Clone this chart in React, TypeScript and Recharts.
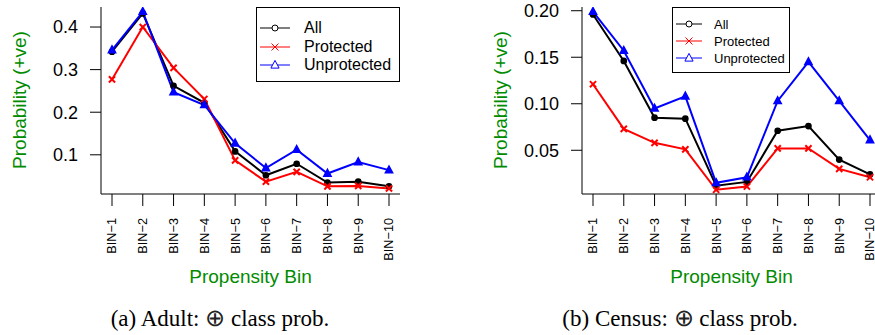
import React from "react";
import { LineChart, Line, XAxis, YAxis, Legend } from "recharts";

// Propensity bins and the positive-class probability per group.
const bins = ["BIN\u22121", "BIN\u22122", "BIN\u22123", "BIN\u22124", "BIN\u22125", "BIN\u22126", "BIN\u22127", "BIN\u22128", "BIN\u22129", "BIN\u221210"];

const adultAll = [0.342, 0.432, 0.262, 0.222, 0.108, 0.052, 0.079, 0.035, 0.037, 0.026];
const adultProtected = [0.277, 0.4, 0.304, 0.231, 0.087, 0.037, 0.06, 0.026, 0.027, 0.021];
const adultUnprotected = [0.346, 0.436, 0.247, 0.217, 0.127, 0.069, 0.112, 0.056, 0.083, 0.064];

const censusAll = [0.196, 0.146, 0.085, 0.084, 0.012, 0.016, 0.071, 0.076, 0.04, 0.024];
const censusProtected = [0.121, 0.073, 0.058, 0.051, 0.0075, 0.011, 0.052, 0.052, 0.03, 0.021];
const censusUnprotected = [0.199, 0.157, 0.095, 0.108, 0.015, 0.021, 0.103, 0.145, 0.103, 0.061];

const adultTicks = [0.1, 0.2, 0.3, 0.4];
const censusTicks = [0.05, 0.1, 0.15, 0.2];

const SANS = "'Liberation Sans', Arial, Helvetica, sans-serif";
const SERIF = "'Liberation Serif', 'Times New Roman', serif";
const GREEN = "#008B00";

const series = [
  { key: "all", name: "All", color: "#000000", shape: "circle" },
  { key: "prot", name: "Protected", color: "#FF0000", shape: "cross" },
  { key: "unprot", name: "Unprotected", color: "#0000FF", shape: "triangle" },
];

const rows = (all: number[], prot: number[], unprot: number[]) =>
  bins.map((bin, i) => ({ bin, all: all[i], prot: prot[i], unprot: unprot[i] }));

const adultData = rows(adultAll, adultProtected, adultUnprotected);
const censusData = rows(censusAll, censusProtected, censusUnprotected);

function Marker({ shape, cx, cy, color, filled, r }: any) {
  if (shape === "circle") {
    return <circle cx={cx} cy={cy} r={r} fill={filled ? color : "#fff"} stroke={color} strokeWidth={filled ? 1.5 : 1} />;
  }
  if (shape === "cross") {
    const d = r + 0.5;
    return (
      <path
        d={`M${cx - d},${cy - d}L${cx + d},${cy + d}M${cx - d},${cy + d}L${cx + d},${cy - d}`}
        stroke={color}
        strokeWidth={filled ? 2 : 1}
        fill="none"
      />
    );
  }
  const h = r * 1.2;
  return (
    <path
      d={`M${cx},${cy - h - 1}L${cx + h + 0.5},${cy + h - 0.5}L${cx - h - 0.5},${cy + h - 0.5}Z`}
      fill={filled ? color : "#fff"}
      stroke={color}
      strokeWidth={filled ? 1.5 : 1}
    />
  );
}

function BinTick({ x, y, payload }: any) {
  return (
    <text
      x={x}
      y={y}
      transform={`rotate(-90 ${x} ${y})`}
      textAnchor="end"
      dy="0.35em"
      fontFamily={SANS}
      fontSize={12.7}
      fill="#000"
    >
      {payload.value}
    </text>
  );
}

function LegendBox({ payload, font, lineW, textX, rowTop, rowGap }: any) {
  return (
    <div style={{ position: "relative", width: "100%", height: "100%", border: "1px solid #000", boxSizing: "border-box", background: "#fff" }}>
      {(payload || []).map((p: any, i: number) => {
        const s = series.find((q) => q.name === p.value)!;
        const cy = rowTop + i * rowGap;
        return (
          <div key={p.value}>
            <svg style={{ position: "absolute", left: 3, top: cy - 6 }} width={lineW} height={12}>
              <line x1={0} y1={6} x2={lineW} y2={6} stroke={s.color} strokeWidth={1} />
              <Marker shape={s.shape} cx={lineW / 2} cy={6} color={s.color} r={3} filled={false} />
            </svg>
            <span style={{ position: "absolute", left: textX, top: cy, transform: "translateY(-50%)", fontFamily: SANS, fontSize: font, lineHeight: 1, whiteSpace: "nowrap" }}>
              {p.value}
            </span>
          </div>
        );
      })}
    </div>
  );
}

function Caption({ label, name }: any) {
  // the circled plus is thin and cap-high in the original
  return (
    <>
      {label} {name}:{" "}
      <span style={{ fontFamily: "'DejaVu Sans', sans-serif", fontWeight: 200, fontSize: "1.05em", color: "#222" }}>⊕</span> class prob.
    </>
  );
}

function Panel({ data, domain, ticks, width, yWidth, right, legend, caption, captionX }: any) {
  const plotLeft = yWidth;
  const plotRight = width - right;
  const mid = (plotLeft + plotRight) / 2;
  return (
    <div style={{ position: "relative", width, height: 335 }}>
      <LineChart width={width} height={300} data={data} margin={{ top: 7, right, bottom: 0, left: 0 }}>
        <XAxis
          dataKey="bin"
          type="category"
          padding={{ left: 11, right: 11 }}
          height={106}
          tickSize={12}
          tickMargin={12}
          interval={0}
          tick={<BinTick />}
          stroke="#000"
          tickLine={{ stroke: "#000" }}
        />
        <XAxis xAxisId="top" dataKey="bin" orientation="top" height={0} tick={false} tickLine={false} stroke="#000" />
        <YAxis
          type="number"
          domain={domain}
          ticks={ticks}
          allowDataOverflow
          width={yWidth}
          tickSize={11}
          tickMargin={12}
          stroke="#000"
          tick={{ fill: "#000", fontFamily: SANS, fontSize: 18 }}
          tickFormatter={(v: number) => (ticks[0] === 0.05 ? v.toFixed(2) : v.toFixed(1))}
        />
        <YAxis yAxisId="r" orientation="right" type="number" domain={domain} allowDataOverflow width={0} tick={false} tickLine={false} stroke="#000" />
        <Legend
          layout="vertical"
          align="center"
          verticalAlign="middle"
          wrapperStyle={legend.style}
          content={(props: any) => <LegendBox payload={props.payload} {...legend} />}
        />
        {series.map((s) => (
          <Line
            key={s.key}
            dataKey={s.key}
            name={s.name}
            stroke={s.color}
            strokeWidth={2}
            isAnimationActive={false}
            dot={(p: any) => <Marker key={`${s.key}-${p.index}`} shape={s.shape} cx={p.cx} cy={p.cy} color={s.color} r={2.6} filled />}
            activeDot={false}
          />
        ))}
      </LineChart>
      <div
        style={{ position: "absolute", left: yWidth - 81, top: 100, transform: "translate(-50%, -50%) rotate(-90deg)", color: GREEN, fontFamily: SANS, fontSize: 19, whiteSpace: "nowrap" }}
      >
        Probability (+ve)
      </div>
      <div style={{ position: "absolute", left: mid, top: 277, transform: "translate(-50%, -50%)", color: GREEN, fontFamily: SANS, fontSize: 19, whiteSpace: "nowrap" }}>
        Propensity Bin
      </div>
      <div style={{ position: "absolute", left: captionX, top: 318, transform: "translate(-50%, -50%)", color: "#000", fontFamily: SERIF, fontSize: 23, whiteSpace: "nowrap" }}>
        {caption}
      </div>
    </div>
  );
}

export default function App() {
  return (
    <div style={{ position: "absolute", left: 0, top: 0, width: 875, height: 335, overflow: "hidden", background: "#fff" }}>
      <div style={{ position: "absolute", left: 0, top: 0 }}>
        <Panel
          data={adultData}
          domain={[0.008, 0.447]}
          ticks={adultTicks}
          width={440}
          yWidth={101}
          right={40}
          caption={<Caption label="(a)" name="Adult" />}
          captionX={220}
          legend={{ style: { left: 256, top: 7, width: 144, height: 75 }, font: 16, lineW: 30, textX: 47, rowTop: 20, rowGap: 18.5 }}
        />
      </div>
      <div style={{ position: "absolute", left: 440, top: 0 }}>
        <Panel
          data={censusData}
          domain={[0.003, 0.204]}
          ticks={censusTicks}
          width={450}
          yWidth={142}
          right={9}
          caption={<Caption label="(b)" name="Census" />}
          captionX={240}
          legend={{ style: { left: 232, top: 7, width: 118, height: 66 }, font: 13, lineW: 26, textX: 41, rowTop: 16, rowGap: 17 }}
        />
      </div>
    </div>
  );
}
